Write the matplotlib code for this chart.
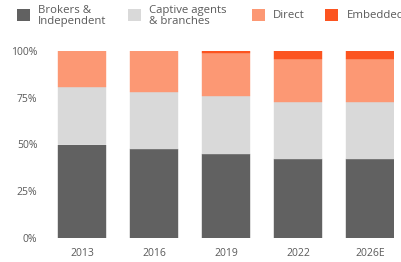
import numpy as np
import matplotlib
matplotlib.use("Agg")
from matplotlib import pyplot as plt
from matplotlib.patches import Rectangle

# Data (share of distribution, %)
years = ['2013', '2016', '2019', '2022', '2026E']
brokers = [50, 47.5, 45, 42, 42]
captive = [31, 30.5, 31, 30.5, 30.5]
direct = [19, 22, 23, 23, 23]
embedded = [0, 0, 1, 4.5, 4.5]

labels = ['Brokers &\nIndependent', 'Captive agents\n& branches', 'Direct', 'Embedded']
colors = ['#616161', '#d9d9d9', '#fc9874', '#fc5420']
text_col = '#5a5a5a'

plt.rcParams['font.family'] = ['Open Sans', 'DejaVu Sans']

W, H = 402, 262
fig = plt.figure(figsize=(W / 100, H / 100), dpi=100)

# axes placement in pixels
x0 = -0.6
x1 = 4.34
px_per_unit = 72
left_px = 82 + x0 * px_per_unit
right_px = 82 + x1 * px_per_unit
top_px, bot_px = 51, 238
ax = fig.add_axes([left_px / W, 1 - bot_px / H, (right_px - left_px) / W, (bot_px - top_px) / H])

x = np.arange(len(years))
bottom = np.zeros(len(years))
for vals, c in zip([brokers, captive, direct, embedded], colors):
    # thin same-colour edge hides anti-aliasing seams; none on empty segments
    lw = [0.3 if v > 0 else 0 for v in vals]
    ax.bar(x, vals, bottom=bottom, width=0.667, color=c, edgecolor=c, linewidth=lw)
    bottom += np.array(vals)

ax.set_xlim(x0, x1)
ax.set_ylim(0, 100)
ax.set_yticks([0, 25, 50, 75, 100])
ax.set_yticklabels(['0%', '25%', '50%', '75%', '100%'])
ax.set_xticks(x)
ax.set_xticklabels(years)
for s in ax.spines.values():
    s.set_visible(False)
ax.tick_params(axis='both', length=0, labelsize=7.5, colors=text_col)
ax.tick_params(axis='y', pad=1)
ax.tick_params(axis='x', pad=7)

# legend drawn by hand
sq_x = [17, 128, 252, 325]
txt_x = [38, 149, 273, 347]
for sx, tx, lab, c in zip(sq_x, txt_x, labels, colors):
    fig.patches.append(Rectangle((sx / W, 1 - 21 / H), 13 / W, 12 / H,
                                 transform=fig.transFigure, color=c, linewidth=0))
    fig.text(tx / W, 1 - 16 / H, lab, fontsize=8.2, color=text_col, va='center',
             ha='left', linespacing=1.05)

fig.savefig('out.png', dpi=100)
